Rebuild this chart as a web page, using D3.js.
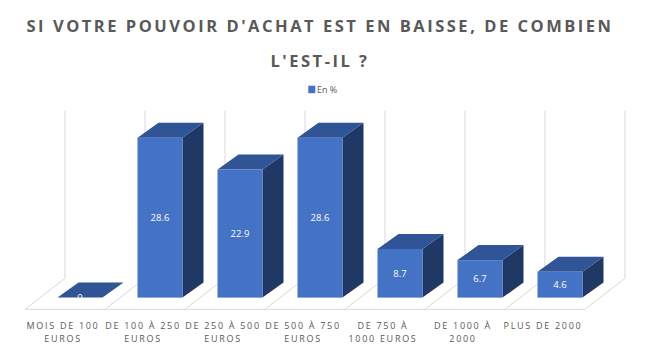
<!DOCTYPE html>
<html>
<head>
<meta charset="utf-8">
<script src="https://cdn.jsdelivr.net/npm/d3@7"></script>
<style>
  html, body { margin: 0; padding: 0; background: #fff; }
  svg { display: block; }
</style>
</head>
<body>
<svg id="chart" width="653" height="350"></svg>
<script>
// Chart data
const categories = [
  ["MOIS DE 100", "EUROS"],
  ["DE 100 À 250", "EUROS"],
  ["DE 250 À 500", "EUROS"],
  ["DE 500 À 750", "EUROS"],
  ["DE 750 À", "1000 EUROS"],
  ["DE 1000 À", "2000"],
  ["PLUS DE 2000"]
];
const values = [0, 28.6, 22.9, 28.6, 8.7, 6.7, 4.6];
const seriesName = "En %";
const titleLines = ["SI VOTRE POUVOIR D'ACHAT EST EN BAISSE, DE COMBIEN", "L'EST-IL ?"];
const valueMax = 30;

// Layout of the 3D box
const svg = d3.select("#chart");
const font = "'Open Sans', 'Liberation Sans', sans-serif";
const frontY = 309.3;               // front edge of the floor
const floorDepth = { dx: 40, dy: -31 };
const barOffset = { dx: 15, dy: -11.7 };
const barDepth = { dx: 21, dy: -15 };
const barWidth = 45;

const keys = categories.map((c, i) => i);
const x = d3.scaleBand().domain(keys).range([25, 585]).paddingInner(0).paddingOuter(0);
const h = d3.scaleLinear().domain([0, valueMax]).range([0, 167.8]);

const gridColor = "#d9d9d9";
const colFront = "#4472c4", colTop = "#2f5597", colSide = "#1f3864";

// Boundaries of each category band
const bounds = keys.map(k => x(k)).concat([x.range()[1]]);

// Floor: front edge and diagonal separators
const floor = svg.append("g").attr("stroke", gridColor).attr("stroke-width", 1).attr("fill", "none");
floor.append("line")
  .attr("x1", bounds[0]).attr("x2", bounds[bounds.length - 1])
  .attr("y1", frontY).attr("y2", frontY);
floor.selectAll("line.diag").data(bounds).join("line").attr("class", "diag")
  .attr("x1", d => d).attr("y1", frontY)
  .attr("x2", d => d + floorDepth.dx).attr("y2", frontY + floorDepth.dy);

// Back wall vertical gridlines
const backY = frontY + floorDepth.dy;
floor.selectAll("line.wall").data(bounds).join("line").attr("class", "wall")
  .attr("x1", d => d + floorDepth.dx).attr("x2", d => d + floorDepth.dx)
  .attr("y1", backY).attr("y2", backY - h(valueMax));

// Bars
const baseY = frontY + barOffset.dy;
const bars = svg.append("g").selectAll("g").data(values).join("g");
bars.each(function (v, i) {
  const g = d3.select(this);
  const cx = x(i) + x.bandwidth() / 2 + barOffset.dx;
  const x0 = cx - barWidth / 2, x1 = cx + barWidth / 2;
  const yTop = baseY - h(v);
  const dx = barDepth.dx, dy = barDepth.dy;
  // side face
  g.append("path").attr("fill", colSide)
    .attr("d", `M${x1},${baseY}L${x1},${yTop}L${x1 + dx},${yTop + dy}L${x1 + dx},${baseY + dy}Z`);
  // top face
  g.append("path").attr("fill", colTop)
    .attr("d", `M${x0},${yTop}L${x1},${yTop}L${x1 + dx},${yTop + dy}L${x0 + dx},${yTop + dy}Z`);
  // front face
  g.append("rect").attr("fill", colFront)
    .attr("x", x0).attr("y", yTop).attr("width", barWidth).attr("height", h(v));
  // value label
  g.append("text")
    .attr("x", cx).attr("y", (yTop + baseY) / 2)
    .attr("text-anchor", "middle").attr("dominant-baseline", "central")
    .attr("font-family", font).attr("font-size", 9.5).attr("fill", "#ffffff")
    .text(String(v));
});

// Category labels
const labels = svg.append("g");
categories.forEach((lines, i) => {
  const cx = x(i) + x.bandwidth() / 2 - 2;
  const t = labels.append("text")
    .attr("text-anchor", "middle")
    .attr("font-family", font).attr("font-size", 9)
    .attr("letter-spacing", 1.7)
    .attr("fill", "#595959");
  lines.forEach((line, j) => {
    t.append("tspan").attr("x", cx).attr("y", 328.7 + j * 13.3).text(line);
  });
});

// Title
const title = svg.append("g");
const titleCx = 320;
const t1 = title.append("text")
  .attr("x", titleCx).attr("y", 31.7).attr("text-anchor", "middle")
  .attr("font-family", font).attr("font-size", 16.5).attr("font-weight", "bold")
  .attr("fill", "#595959").text(titleLines[0]);
// spread the first line to its target width and reuse that spacing for the second line
const natural = t1.node().getComputedTextLength();
const spacing = Math.max(0, (587 - natural) / titleLines[0].length);
t1.attr("letter-spacing", spacing);
title.append("text")
  .attr("x", titleCx).attr("y", 66.5).attr("text-anchor", "middle")
  .attr("font-family", font).attr("font-size", 16.5).attr("font-weight", "bold")
  .attr("letter-spacing", spacing)
  .attr("fill", "#595959").text(titleLines[1]);

// Legend
const legend = svg.append("g");
legend.append("rect").attr("x", 308.3).attr("y", 85.7).attr("width", 7).attr("height", 7.5).attr("fill", colFront);
legend.append("text").attr("x", 317).attr("y", 93)
  .attr("font-family", font).attr("font-size", 9).attr("fill", "#595959")
  .text(seriesName);
</script>
</body>
</html>
